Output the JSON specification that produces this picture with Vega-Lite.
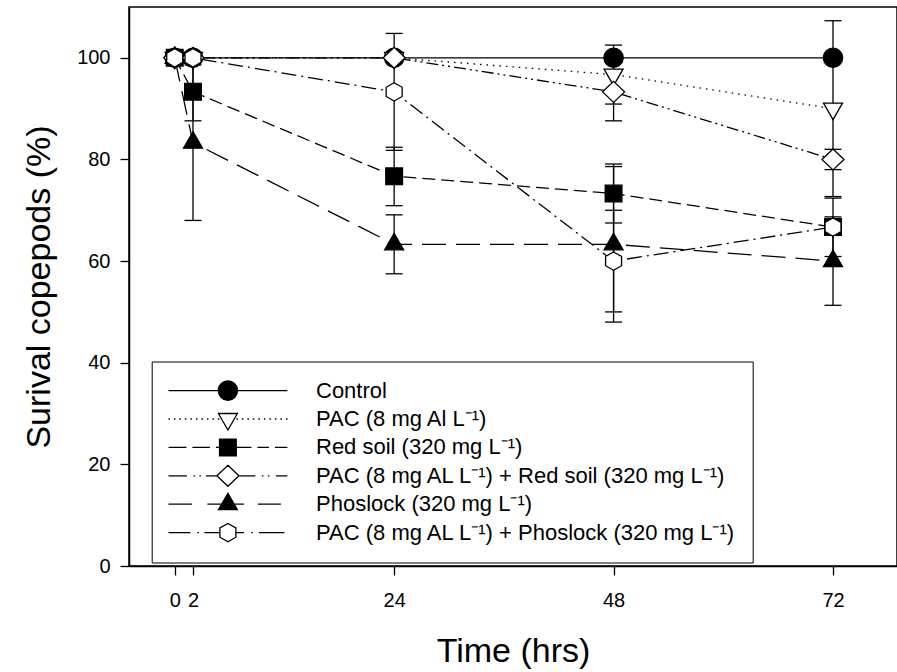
{
  "$schema": "https://vega.github.io/schema/vega-lite/v6.json",
  "width": 768,
  "height": 559,
  "autosize": {"type": "none"},
  "padding": {"left": 129, "top": 7, "right": 0, "bottom": 106},
  "background": "white",
  "config": {
    "font": "Liberation Sans",
    "view": {"stroke": "black", "strokeWidth": 1.5},
    "axis": {
      "domainColor": "black", "domainWidth": 1.5,
      "tickColor": "black", "tickWidth": 1.3, "tickSize": 9,
      "labelColor": "black", "labelFontSize": 20, "labelFont": "Liberation Sans",
      "titleColor": "black", "titleFontSize": 34, "titleFont": "Liberation Sans", "titleFontWeight": "normal",
      "grid": false
    },
    "legend": {
      "title": null, "orient": "none", "legendX": 22.7, "legendY": 354.5,
      "padding": 16.5, "strokeColor": "black", "fillColor": "white",
      "labelFontSize": 22, "labelFont": "Liberation Sans", "labelColor": "black", "labelLimit": 700,
      "symbolSize": 400, "symbolStrokeWidth": 1.3, "symbolOpacity": 1,
      "symbolOffset": 48.7, "labelOffset": 77.1, "rowPadding": 2.4, "clipHeight": 25.2
    }
  },
  "data": {
    "values": [
      {"series": "Control", "time": 0, "surv": 100, "lo": 100, "hi": 100},
      {"series": "Control", "time": 2, "surv": 100, "lo": 100, "hi": 100},
      {"series": "Control", "time": 24, "surv": 100, "lo": 100, "hi": 100},
      {"series": "Control", "time": 48, "surv": 100, "lo": 100, "hi": 100},
      {"series": "Control", "time": 72, "surv": 100, "lo": 100, "hi": 100},
      {"series": "PAC (8 mg Al L⁻¹)", "time": 0, "surv": 100, "lo": 100, "hi": 100},
      {"series": "PAC (8 mg Al L⁻¹)", "time": 2, "surv": 100, "lo": 100, "hi": 100},
      {"series": "PAC (8 mg Al L⁻¹)", "time": 24, "surv": 100, "lo": 100, "hi": 100},
      {"series": "PAC (8 mg Al L⁻¹)", "time": 48, "surv": 96.7, "lo": 90.9, "hi": 102.5},
      {"series": "PAC (8 mg Al L⁻¹)", "time": 72, "surv": 90, "lo": 72.7, "hi": 107.3},
      {"series": "Red soil (320 mg L⁻¹)", "time": 0, "surv": 100, "lo": 100, "hi": 100},
      {"series": "Red soil (320 mg L⁻¹)", "time": 2, "surv": 93.3, "lo": 87.6, "hi": 99.1},
      {"series": "Red soil (320 mg L⁻¹)", "time": 24, "surv": 76.7, "lo": 70.9, "hi": 82.4},
      {"series": "Red soil (320 mg L⁻¹)", "time": 48, "surv": 73.3, "lo": 67.5, "hi": 79.1},
      {"series": "Red soil (320 mg L⁻¹)", "time": 72, "surv": 66.7, "lo": 60.9, "hi": 72.4},
      {"series": "PAC (8 mg AL L⁻¹) + Red soil (320 mg L⁻¹)", "time": 0, "surv": 100, "lo": 100, "hi": 100},
      {"series": "PAC (8 mg AL L⁻¹) + Red soil (320 mg L⁻¹)", "time": 2, "surv": 100, "lo": 100, "hi": 100},
      {"series": "PAC (8 mg AL L⁻¹) + Red soil (320 mg L⁻¹)", "time": 24, "surv": 100, "lo": 100, "hi": 100},
      {"series": "PAC (8 mg AL L⁻¹) + Red soil (320 mg L⁻¹)", "time": 48, "surv": 93.3, "lo": 87.6, "hi": 99.1},
      {"series": "PAC (8 mg AL L⁻¹) + Red soil (320 mg L⁻¹)", "time": 72, "surv": 80, "lo": 78, "hi": 82},
      {"series": "Phoslock (320 mg L⁻¹)", "time": 0, "surv": 100, "lo": 100, "hi": 100},
      {"series": "Phoslock (320 mg L⁻¹)", "time": 2, "surv": 83.3, "lo": 68.0, "hi": 98.6},
      {"series": "Phoslock (320 mg L⁻¹)", "time": 24, "surv": 63.3, "lo": 57.5, "hi": 69.1},
      {"series": "Phoslock (320 mg L⁻¹)", "time": 48, "surv": 63.3, "lo": 48.0, "hi": 78.6},
      {"series": "Phoslock (320 mg L⁻¹)", "time": 72, "surv": 60, "lo": 51.3, "hi": 68.7},
      {"series": "PAC (8 mg AL L⁻¹) + Phoslock (320 mg L⁻¹)", "time": 0, "surv": 100, "lo": 100, "hi": 100},
      {"series": "PAC (8 mg AL L⁻¹) + Phoslock (320 mg L⁻¹)", "time": 2, "surv": 100, "lo": 100, "hi": 100},
      {"series": "PAC (8 mg AL L⁻¹) + Phoslock (320 mg L⁻¹)", "time": 24, "surv": 93.3, "lo": 81.8, "hi": 104.8},
      {"series": "PAC (8 mg AL L⁻¹) + Phoslock (320 mg L⁻¹)", "time": 48, "surv": 60, "lo": 50, "hi": 70},
      {"series": "PAC (8 mg AL L⁻¹) + Phoslock (320 mg L⁻¹)", "time": 72, "surv": 66.7, "lo": 66.7, "hi": 66.7}
    ]
  },
  "resolve": {"scale": {"shape": "independent", "fill": "independent"}},
  "layer": [
    {
      "mark": {"type": "line", "stroke": "black", "strokeWidth": 1.3, "clip": true},
      "encoding": {
        "x": {"field": "time", "type": "quantitative", "title": "Time (hrs)",
              "scale": {"domain": [-5, 79], "nice": false, "zero": false},
              "axis": {"values": [0, 2, 24, 48, 72], "labelPadding": 15.5, "titlePadding": 24, "labelFlush": false}},
        "y": {"field": "surv", "type": "quantitative", "title": "Surival copepods (%)",
              "scale": {"domain": [0, 110], "nice": false},
              "axis": {"values": [0, 20, 40, 60, 80, 100], "labelPadding": 10, "titlePadding": 20}},
        "strokeDash": {"field": "series", "type": "nominal", "legend": null,
          "scale": {
            "domain": ["PAC (8 mg AL L⁻¹) + Phoslock (320 mg L⁻¹)", "Phoslock (320 mg L⁻¹)", "PAC (8 mg AL L⁻¹) + Red soil (320 mg L⁻¹)", "Red soil (320 mg L⁻¹)", "PAC (8 mg Al L⁻¹)", "Control"],
            "range": [[15, 5, 2, 5], [24, 10], [12, 4, 2, 4, 2, 4], [13, 6], [1.5, 5], [1, 0]]
          }}
      }
    },
    {
      "mark": {"type": "rule", "stroke": "black", "strokeWidth": 1.3},
      "transform": [{"filter": "datum.hi > datum.lo"}],
      "encoding": {
        "x": {"field": "time", "type": "quantitative", "title": "Time (hrs)"},
        "y": {"field": "lo", "type": "quantitative", "title": "Surival copepods (%)"},
        "y2": {"field": "hi"}
      }
    },
    {
      "mark": {"type": "tick", "orient": "horizontal", "size": 17, "thickness": 1.3, "color": "black", "opacity": 1},
      "transform": [{"filter": "datum.hi > datum.lo"}],
      "encoding": {
        "x": {"field": "time", "type": "quantitative", "title": "Time (hrs)"},
        "y": {"field": "lo", "type": "quantitative", "title": "Surival copepods (%)"}
      }
    },
    {
      "mark": {"type": "tick", "orient": "horizontal", "size": 17, "thickness": 1.3, "color": "black", "opacity": 1},
      "transform": [{"filter": "datum.hi > datum.lo"}],
      "encoding": {
        "x": {"field": "time", "type": "quantitative", "title": "Time (hrs)"},
        "y": {"field": "hi", "type": "quantitative", "title": "Surival copepods (%)"}
      }
    },
    {
      "mark": {"type": "point", "size": 400, "stroke": "black", "strokeWidth": 1.3, "opacity": 1},
      "encoding": {
        "x": {"field": "time", "type": "quantitative", "title": "Time (hrs)"},
        "y": {"field": "surv", "type": "quantitative", "title": "Surival copepods (%)"},
        "shape": {"field": "series", "type": "nominal", "legend": null,
          "scale": {
            "domain": ["Control", "PAC (8 mg Al L⁻¹)", "Red soil (320 mg L⁻¹)", "PAC (8 mg AL L⁻¹) + Red soil (320 mg L⁻¹)", "Phoslock (320 mg L⁻¹)", "PAC (8 mg AL L⁻¹) + Phoslock (320 mg L⁻¹)"],
            "range": [
              "M0.965,0A0.965,0.965,0,1,1,-0.965,0A0.965,0.965,0,1,1,0.965,0Z",
              "M-0.95,-0.55L0.95,-0.55L0,1.1Z",
              "M-0.835,-0.835L0.835,-0.835L0.835,0.835L-0.835,0.835Z",
              "M0,-1.05L1.1,0L0,1.05L-1.1,0Z",
              "M0,-1.1L0.95,0.55L-0.95,0.55Z",
              "M0,-0.915L0.8,-0.46L0.8,0.46L0,0.915L-0.8,0.46L-0.8,-0.46Z"
            ]
          }},
        "fill": {"field": "series", "type": "nominal", "legend": null,
          "scale": {
            "domain": ["Control", "PAC (8 mg Al L⁻¹)", "Red soil (320 mg L⁻¹)", "PAC (8 mg AL L⁻¹) + Red soil (320 mg L⁻¹)", "Phoslock (320 mg L⁻¹)", "PAC (8 mg AL L⁻¹) + Phoslock (320 mg L⁻¹)"],
            "range": ["black", "white", "black", "white", "black", "white"]
          }}
      }
    },
    {
      "mark": {"type": "point", "size": 400, "stroke": "black", "strokeWidth": 1.3, "opacity": 0},
      "encoding": {
        "x": {"field": "time", "type": "quantitative", "title": "Time (hrs)"},
        "y": {"field": "surv", "type": "quantitative", "title": "Surival copepods (%)"},
        "shape": {"field": "series", "type": "nominal",
          "scale": {
            "domain": ["Control", "PAC (8 mg Al L⁻¹)", "Red soil (320 mg L⁻¹)", "PAC (8 mg AL L⁻¹) + Red soil (320 mg L⁻¹)", "Phoslock (320 mg L⁻¹)", "PAC (8 mg AL L⁻¹) + Phoslock (320 mg L⁻¹)"],
            "range": [
              "M-5.95,0L-0.965,0M0.965,0L5.95,0M0.965,0A0.965,0.965,0,1,1,-0.965,0A0.965,0.965,0,1,1,0.965,0Z",
              "M-0.95,-0.55L0.95,-0.55L0,1.1ZM-5.95,0L-5.8,0M-5.4,0L-5.25,0M-4.85,0L-4.7,0M-4.3,0L-4.15,0M-3.75,0L-3.6,0M-3.2,0L-3.05,0M-2.65,0L-2.5,0M-2.1,0L-1.95,0M-1.55,0L-1.4,0M-1.0,0L-0.85,0M0.85,0L1.0,0M1.4,0L1.55,0M1.95,0L2.1,0M2.5,0L2.65,0M3.05,0L3.2,0M3.6,0L3.75,0M4.15,0L4.3,0M4.7,0L4.85,0M5.25,0L5.4,0M5.8,0L5.95,0",
              "M-0.835,-0.835L0.835,-0.835L0.835,0.835L-0.835,0.835ZM-5.95,0L-4.15,0M-3.55,0L-1.8,0M-1.2,0L-0.835,0M0.835,0L2.35,0M2.95,0L4.1,0M4.7,0L5.95,0",
              "M0,-1.05L1.1,0L0,1.05L-1.1,0ZM-5.95,0L-4.1,0M-3.45,0L-3.3,0M-2.85,0L-2.7,0M-2.2,0L-1.1,0M1.1,0L2.75,0M3.4,0L3.55,0M4.0,0L4.15,0M4.8,0L5.95,0",
              "M0,-1.1L0.95,0.55L-0.95,0.55ZM-5.95,0L-3.6,0M-2.05,0L-0.63,0M0.63,0L1.6,0M3.0,0L5.3,0",
              "M0,-0.915L0.8,-0.46L0.8,0.46L0,0.915L-0.8,0.46L-0.8,-0.46ZM-5.95,0L-3.75,0M-3.05,0L-2.9,0M-2.35,0L-0.8,0M0.8,0L1.6,0M2.35,0L2.5,0M3.1,0L5.65,0"
            ]
          },
          "legend": {}},
        "fill": {"field": "series", "type": "nominal",
          "scale": {
            "domain": ["Control", "PAC (8 mg Al L⁻¹)", "Red soil (320 mg L⁻¹)", "PAC (8 mg AL L⁻¹) + Red soil (320 mg L⁻¹)", "Phoslock (320 mg L⁻¹)", "PAC (8 mg AL L⁻¹) + Phoslock (320 mg L⁻¹)"],
            "range": ["black", "white", "black", "white", "black", "white"]
          },
          "legend": {}}
      }
    }
  ]
}
